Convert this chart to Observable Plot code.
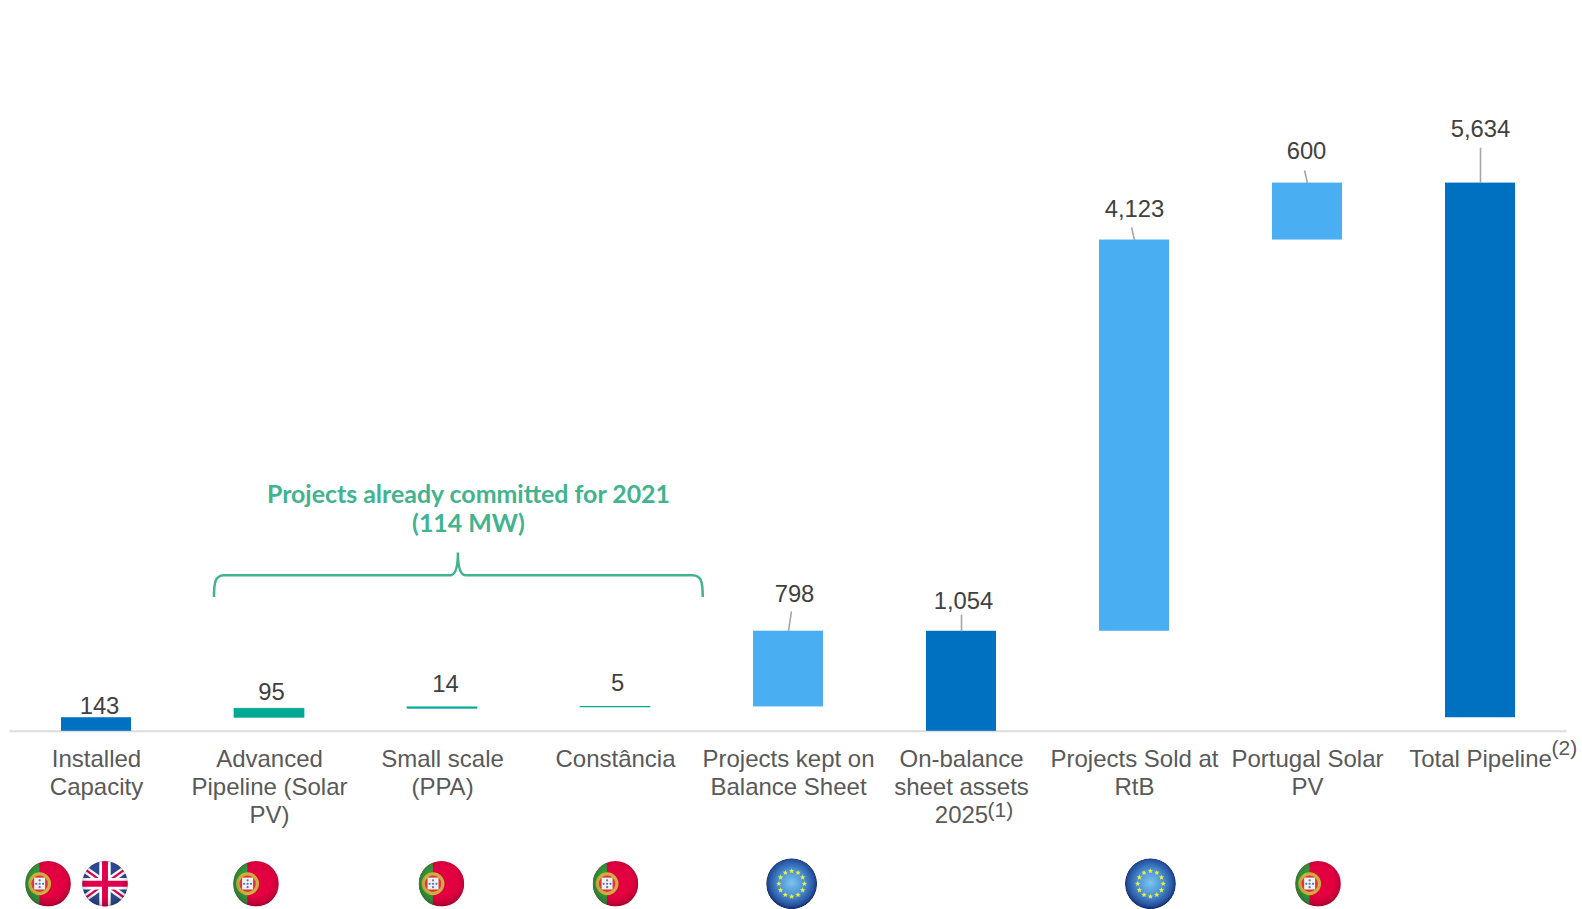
<!DOCTYPE html>
<html>
<head>
<meta charset="utf-8">
<style>
  html, body { margin: 0; padding: 0; background: #fff; }
  svg { display: block; }
</style>
<script src="https://cdn.jsdelivr.net/npm/d3@7"></script>
<script src="https://cdn.jsdelivr.net/npm/@observablehq/plot@0.6"></script>
</head>
<body>
<div id="chart"></div>
<script>
// Pipeline waterfall, in MW
const categories = [
  "Installed\nCapacity",
  "Advanced\nPipeline (Solar\nPV)",
  "Small scale\n(PPA)",
  "Constância",
  "Projects kept on\nBalance Sheet",
  "On-balance\nsheet assets\n2025",
  "Projects Sold at\nRtB",
  "Portugal Solar\nPV",
  "Total Pipeline"
];
const values = [143, 95, 14, 5, 798, 1054, 4123, 600, 5634];
const bases = [0, 143, 238, 252, 257, 0, 1054, 5177, 143];
const kinds = ["total", "committed", "committed", "committed", "step", "total", "step", "step", "total"];
const valueLabels = ["143", "95", "14", "5", "798", "1,054", "4,123", "600", "5,634"];
const footnotes = [{cat: 5, mark: "(1)"}, {cat: 8, mark: "(2)"}];
const flags = [
  {kind: "pt", at: -0.277},
  {kind: "uk", at: 0.052},
  {kind: "pt", at: 0.925},
  {kind: "pt", at: 1.997},
  {kind: "pt", at: 3.003},
  {kind: "eu", at: 4.021},
  {kind: "eu", at: 6.095},
  {kind: "pt", at: 7.064}
];

const bars = values.map((v, i) => ({i, value: v, base: bases[i], top: bases[i] + v, kind: kinds[i], label: valueLabels[i]}));

// Label offset from the bar top (px) and the end of its leader line (data units)
const labelOffsets = [[3, -11], [2, -16], [3, -23], [2, -24], [6, -37], [2, -30], [0, -31], [-1, -32], [0, -54]];
const leaders = [
  {i: 4, shift: 0.017, top: 1055, tip: 1265},
  {i: 5, shift: 0, top: 1054, tip: 1230},
  {i: 6, shift: -0.017, top: 5177, tip: 5310},
  {i: 7, shift: -0.017, top: 5777, tip: 5910},
  {i: 8, shift: 0, top: 5777, tip: 6150}
];

const green = "#41b38f";
const fills = {total: "#0070c0", committed: "#00a994", step: "#4aaef2"};

// Curly brace spanning the committed projects
function brace(_, {x, y}) {
  const L = x(0.682), R = x(3.507), M = x(2.092);
  const bottom = y(1410), top = y(1640), tip = y(1880);
  const d = `M${L},${bottom} C${L},${top + 8} ${L + 1},${top} ${L + 10},${top}` +
    ` L${M - 8},${top} C${M - 3},${top} ${M},${top - 6} ${M},${tip}` +
    ` C${M},${top - 6} ${M + 3},${top} ${M + 8},${top}` +
    ` L${R - 10},${top} C${R - 1},${top} ${R},${top + 8} ${R},${bottom}`;
  return d3.create("svg:path").attr("d", d).attr("fill", "none")
    .attr("stroke", green).attr("stroke-width", 2.5).node();
}

function star(g, cx, cy, r) {
  const pts = d3.range(10).map(k => {
    const a = -Math.PI / 2 + k * Math.PI / 5, q = k % 2 ? r * 0.45 : r;
    return `${cx + q * Math.cos(a)},${cy + q * Math.sin(a)}`;
  });
  g.append("polygon").attr("points", pts.join(" ")).attr("fill", "#e4ee3c");
}

// Round glossy country badges along the bottom of the chart
function badges(_, {x, y}) {
  const root = d3.create("svg:g");
  const defs = root.append("defs");
  const shade = defs.append("radialGradient").attr("id", "badge-shade").attr("cx", "50%").attr("cy", "45%").attr("r", "57%");
  shade.append("stop").attr("offset", "62%").attr("stop-color", "#000").attr("stop-opacity", 0);
  shade.append("stop").attr("offset", "88%").attr("stop-color", "#000").attr("stop-opacity", 0.16);
  shade.append("stop").attr("offset", "100%").attr("stop-color", "#000").attr("stop-opacity", 0.42);
  const eu = defs.append("radialGradient").attr("id", "badge-eu").attr("cx", "50%").attr("cy", "48%").attr("r", "52%");
  eu.append("stop").attr("offset", "0%").attr("stop-color", "#7cc3ee");
  eu.append("stop").attr("offset", "50%").attr("stop-color", "#4a8fd2");
  eu.append("stop").attr("offset", "85%").attr("stop-color", "#27539f");
  eu.append("stop").attr("offset", "100%").attr("stop-color", "#14275f");
  defs.append("filter").attr("id", "badge-soft").append("feGaussianBlur").attr("stdDeviation", 0.55);

  flags.forEach((f, n) => {
    const cx = x(f.at), cy = y(-1612), r = f.kind === "eu" ? 25.5 : 22.8;
    defs.append("clipPath").attr("id", `badge-clip-${n}`)
      .append("circle").attr("cx", cx).attr("cy", cy).attr("r", r);
    const wrap = root.append("g").attr("filter", "url(#badge-soft)");
    const g = wrap.append("g").attr("clip-path", `url(#badge-clip-${n})`);
    const rect = (a, b, w, h, fill) => g.append("rect").attr("x", a).attr("y", b).attr("width", w).attr("height", h).attr("fill", fill);
    if (f.kind === "pt") {
      const sx = cx - r * 0.37;
      rect(cx - r, cy - r, 2 * r, 2 * r, "#e2003f");
      rect(cx - r, cy - r, r * 0.62, 2 * r, "#33963c");
      g.append("circle").attr("cx", sx).attr("cy", cy).attr("r", r * 0.5).attr("fill", "#cfae3c");
      g.append("circle").attr("cx", sx).attr("cy", cy).attr("r", r * 0.36).attr("fill", "#d8383f");
      rect(sx - r * 0.24, cy - r * 0.27, r * 0.48, r * 0.52, "#f0f0f0");
      for (const [a, b] of [[0, -0.15], [-0.15, 0], [0, 0], [0.15, 0], [0, 0.15]]) {
        g.append("circle").attr("cx", sx + a * r).attr("cy", cy + b * r).attr("r", r * 0.05).attr("fill", "#5a78b8");
      }
    } else if (f.kind === "uk") {
      rect(cx - r, cy - r, 2 * r, 2 * r, "#2f4a92");
      const line = (x1, y1, x2, y2, w, c) => g.append("line").attr("x1", x1).attr("y1", y1).attr("x2", x2).attr("y2", y2).attr("stroke", c).attr("stroke-width", w);
      const k = r * 1.1;
      line(cx - k, cy - k * 0.72, cx + k, cy + k * 0.72, r * 0.3, "#fff");
      line(cx - k, cy + k * 0.72, cx + k, cy - k * 0.72, r * 0.3, "#fff");
      line(cx - k, cy - k * 0.72, cx + k, cy + k * 0.72, r * 0.1, "#e0004d");
      line(cx - k, cy + k * 0.72, cx + k, cy - k * 0.72, r * 0.1, "#e0004d");
      line(cx, cy - k, cx, cy + k, r * 0.5, "#fff");
      line(cx - k, cy, cx + k, cy, r * 0.5, "#fff");
      line(cx, cy - k, cx, cy + k, r * 0.26, "#e0004d");
      line(cx - k, cy, cx + k, cy, r * 0.26, "#e0004d");
    } else {
      g.append("circle").attr("cx", cx).attr("cy", cy).attr("r", r).attr("fill", "url(#badge-eu)");
      d3.range(12).forEach(k => {
        const a = k * Math.PI / 6;
        star(g, cx + 0.5 * r * Math.sin(a), cy - 0.5 * r * Math.cos(a), r * 0.11);
      });
    }
    if (f.kind !== "eu") g.append("circle").attr("cx", cx).attr("cy", cy).attr("r", r).attr("fill", "url(#badge-shade)");
  });
  return root.node();
}

const textFont = "'Liberation Sans', Arial, sans-serif";

const plot = Plot.plot({
  width: 1582,
  height: 909,
  marginTop: 0, marginBottom: 0, marginLeft: 0, marginRight: 0,
  style: {background: "transparent", fontFamily: textFont, overflow: "visible"},
  x: {type: "linear", domain: [-0.5, 8.5], range: [9.5, 1566.5], axis: null},
  y: {type: "linear", domain: [0, 5777], range: [730.8, 182.6], axis: null},
  marks: [
    Plot.ruleY([0], {x1: -0.5, x2: 8.5, stroke: "#dcdcdc", strokeWidth: 2}),
    Plot.rect(bars, {
      x1: d => d.i - 0.2023, x2: d => d.i + 0.2023,
      y1: "base", y2: "top",
      fill: d => fills[d.kind],
      stroke: d => d.kind === "committed" ? fills[d.kind] : "none",
      strokeWidth: 0.7
    }),
    Plot.link(leaders, {
      x1: "i", y1: "top", x2: d => d.i + d.shift, y2: "tip",
      stroke: "#a6a6a6", strokeWidth: 1.6
    }),
    ...bars.map(d => Plot.text([d], {
      x: "i", y: "top", text: "label",
      dx: labelOffsets[d.i][0], dy: labelOffsets[d.i][1],
      fontSize: 23.8, fill: "#404040"
    })),
    Plot.text(categories, {
      x: (_, i) => i, y: () => 0, text: d => d,
      lineAnchor: "top", dy: 16, lineHeight: 1.165,
      fontSize: 24, fill: "#595959"
    }),
    Plot.text(footnotes.filter(d => d.cat === 5), {
      x: "cat", y: () => 0, text: "mark", textAnchor: "start",
      dx: 26, dy: 79, fontSize: 21, fill: "#595959"
    }),
    Plot.text(footnotes.filter(d => d.cat === 8), {
      x: "cat", y: () => 0, text: "mark", textAnchor: "start",
      dx: 71, dy: 17, fontSize: 21, fill: "#595959"
    }),
    Plot.text(["Projects already committed for 2021\n(114 MW)"], {
      x: () => 2.15, y: () => 2500, text: d => d,
      lineAnchor: "top", dy: -12, lineHeight: 1.17,
      fontFamily: "Lato, sans-serif", fontWeight: 700, fontSize: 24.9, fill: green
    }),
    brace,
    badges
  ]
});
document.getElementById("chart").appendChild(plot);
</script>
</body>
</html>
